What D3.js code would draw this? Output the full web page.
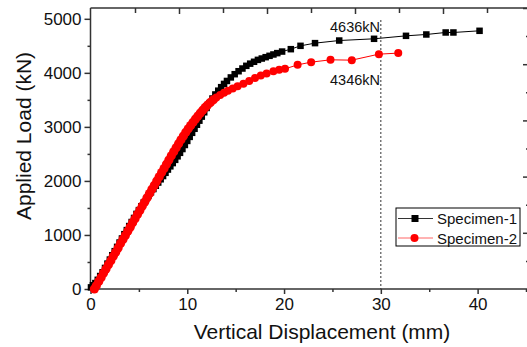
<!DOCTYPE html>
<html>
<head>
<meta charset="utf-8">
<script src="https://cdn.jsdelivr.net/npm/d3@7"></script>
<style>
body { margin:0; background:#fff; }
text { font-family: "Liberation Sans", Arial, sans-serif; fill:#111; }
.axis line, .axis path { stroke:#333; stroke-width:1.5px; }
.tick text { font-size:17px; }
</style>
</head>
<body>
<div id="chart"></div>
<script>
// Specimen-1 (black squares)
var s1x = [0.05,0.25,0.5,0.75,1.0,1.25,1.5,1.75,2.0,2.25,2.5,2.75,3.0,3.25,3.5,3.75,4.0,4.25,4.5,4.75,
  5.0,5.25,5.5,5.75,6.0,6.25,6.5,6.75,7.0,7.25,7.5,7.75,8.0,8.25,8.5,8.75,9.0,9.25,9.5,9.75,
  10.0,10.25,10.5,10.75,11.0,11.25,11.5,11.75,12.0,12.3,12.6,12.9,13.2,13.5,13.8,14.1,14.5,14.9,
  15.3,15.7,16.1,16.5,16.9,17.3,17.7,18.1,18.5,18.9,19.3,19.8,20.7,21.7,23.2,25.7,29.3,32.6,34.7,36.7,37.5,40.2];
var s1y = [30,70,110,170,240,310,390,470,545,625,700,780,860,935,1015,1090,1165,1240,1315,1390,
  1460,1530,1600,1665,1730,1790,1850,1910,1970,2030,2090,2150,2210,2270,2330,2390,2455,2520,2590,2665,
  2740,2815,2890,2965,3040,3115,3190,3270,3350,3440,3525,3600,3670,3735,3795,3850,3915,3975,
  4030,4080,4130,4170,4205,4240,4265,4290,4315,4340,4365,4394,4438,4500,4550,4598,4630,4685,4710,4747,4747,4778];

// Specimen-2 (red circles)
var s2x = [0.4,0.6,0.85,1.1,1.35,1.6,1.85,2.1,2.35,2.6,2.85,3.1,3.35,3.6,3.85,4.1,4.35,4.6,4.85,
  5.1,5.35,5.6,5.85,6.1,6.35,6.6,6.85,7.1,7.35,7.6,7.85,8.1,8.35,8.6,8.85,9.1,9.35,9.6,9.85,
  10.1,10.35,10.6,10.85,11.1,11.35,11.6,11.85,12.1,12.4,12.7,13.0,13.4,13.8,14.2,14.7,15.2,15.8,
  16.4,17.0,17.6,18.2,18.9,19.5,20.1,21.4,22.8,24.8,27.0,29.8,31.8];
var s2y = [0,60,140,215,295,370,450,525,605,680,760,840,915,990,1070,1145,1225,1300,1380,
  1455,1535,1610,1690,1765,1845,1920,2000,2075,2155,2230,2310,2385,2465,2540,2615,2690,2760,2830,2900,
  2965,3025,3085,3145,3200,3255,3310,3360,3405,3455,3500,3545,3590,3630,3670,3710,3750,3800,
  3850,3905,3950,3990,4030,4055,4074,4148,4198,4241,4235,4346,4365];

var xTicks = [0,10,20,30,40];
var yTicks = [0,1000,2000,3000,4000,5000];
var seriesNames = ["Specimen-1","Specimen-2"];
var peakLabels = ["4636kN","4346kN"];

var width = 527, height = 347;

var svg = d3.select("#chart").append("svg")
    .attr("width", width)
    .attr("height", height);

var x = d3.scaleLinear().domain([0,45]).range([90.5,526]);
var y = d3.scaleLinear().domain([0,5200]).range([289,8]);
// the mirrored axes of the original plot don't line up with the data axes
var xTop = d3.scaleLinear().domain([0,50]).range([91,531]);
var yRight = d3.scaleLinear().domain([0,5]).range([289,8]);

// dotted line at 30 mm
svg.append("line")
  .attr("x1", x(30)).attr("x2", x(30))
  .attr("y1", 20).attr("y2", y(0))
  .attr("stroke","#333").attr("stroke-width",1)
  .attr("stroke-dasharray","2,2");

// bottom axis, minor + major
svg.append("g").attr("class","axis")
  .attr("transform","translate(0,"+y(0)+")")
  .call(d3.axisBottom(x).tickValues([5,15,25,35,45]).tickSize(3).tickFormat(""))
  .call(function(g){ g.select(".domain").remove(); });
svg.append("g").attr("class","axis")
  .attr("transform","translate(0,"+y(0)+")")
  .call(d3.axisBottom(x).tickValues(xTicks).tickSize(5).tickSizeOuter(0).tickPadding(4).tickFormat(d3.format("d")))
  .call(function(g){ g.select(".domain").attr("d","M90.5,0H528"); });

// left axis
svg.append("g").attr("class","axis")
  .attr("transform","translate("+x(0)+",0)")
  .call(d3.axisLeft(y).tickValues([500,1500,2500,3500,4500]).tickSize(3).tickFormat(""))
  .call(function(g){ g.select(".domain").remove(); });
svg.append("g").attr("class","axis")
  .attr("transform","translate("+x(0)+",0)")
  .call(d3.axisLeft(y).tickValues(yTicks).tickSize(6).tickSizeOuter(0).tickPadding(3).tickFormat(d3.format("d")))
  .call(function(g){ g.select(".domain").attr("d","M0,289V8"); });

// top axis (ticks inward)
svg.append("g").attr("class","axis")
  .attr("transform","translate(0,8)")
  .call(d3.axisTop(xTop).tickValues(d3.range(5,50,10)).tickSize(-5).tickFormat(""))
  .call(function(g){ g.select(".domain").remove(); });
svg.append("g").attr("class","axis")
  .attr("transform","translate(0,8)")
  .call(d3.axisTop(xTop).tickValues(d3.range(10,51,10)).tickSize(-6).tickFormat(""))
  .call(function(g){ g.select(".domain").attr("d","M90.5,0H528"); });

// right axis (ticks inward)
svg.append("g").attr("class","axis")
  .attr("transform","translate(528,0)")
  .call(d3.axisRight(yRight).tickValues(d3.range(0.5,5,1)).tickSize(-2).tickFormat(""))
  .call(function(g){ g.select(".domain").remove(); g.selectAll("line").attr("stroke","#999"); });
svg.append("g").attr("class","axis")
  .attr("transform","translate(528,0)")
  .call(d3.axisRight(yRight).tickValues(d3.range(1,6,1)).tickSize(-5).tickFormat(""))
  .call(function(g){ g.select(".domain").remove(); });

// axis titles
svg.append("text")
  .attr("x",322).attr("y",339)
  .attr("text-anchor","middle")
  .style("font-size","21px")
  .text("Vertical Displacement (mm)");
svg.append("text")
  .attr("transform","translate(31,136) rotate(-90)")
  .attr("text-anchor","middle")
  .style("font-size","21px")
  .text("Applied Load (kN)");

var line = d3.line()
  .x(function(d){ return x(d[0]); })
  .y(function(d){ return y(d[1]); });

var d1 = s1x.map(function(v,i){ return [v, s1y[i]]; });
var d2 = s2x.map(function(v,i){ return [v, s2y[i]]; });

// specimen 1
svg.append("path").datum(d1)
  .attr("d", line).attr("fill","none")
  .attr("stroke","#000").attr("stroke-width",1);
svg.selectAll(".sq").data(d1).enter().append("rect")
  .attr("class","sq")
  .attr("x", function(d){ return x(d[0])-3.25; })
  .attr("y", function(d){ return y(d[1])-3.25; })
  .attr("width",6.5).attr("height",6.5)
  .attr("fill","#000");

// specimen 2
svg.append("path").datum(d2)
  .attr("d", line).attr("fill","none")
  .attr("stroke","#f00").attr("stroke-width",1);
svg.selectAll(".dot").data(d2).enter().append("circle")
  .attr("class","dot")
  .attr("cx", function(d){ return x(d[0]); })
  .attr("cy", function(d){ return y(d[1]); })
  .attr("r", function(d){ return d[0] < 13 ? 4.6 : 4; })
  .attr("fill","#f00");

// peak labels
svg.append("text").attr("x",380).attr("y",31.5)
  .attr("text-anchor","end").style("font-size","14.5px").text(peakLabels[0]);
svg.append("text").attr("x",380).attr("y",85)
  .attr("text-anchor","end").style("font-size","14.5px").text(peakLabels[1]);

// legend
var lg = svg.append("g").attr("transform","translate(396,208)");
lg.append("rect").attr("width",124).attr("height",38)
  .attr("fill","#fff").attr("stroke","#000").attr("stroke-width",1);
var lineCol = ["#333","#f66"];
seriesNames.forEach(function(name,i){
  var yy = 10.5 + i*19.5;
  lg.append("line").attr("x1",2).attr("x2",37).attr("y1",yy).attr("y2",yy)
    .attr("stroke",lineCol[i]).attr("stroke-width",1);
  if (i==0) {
    lg.append("rect").attr("x",15.5).attr("y",yy-3.5).attr("width",7).attr("height",7).attr("fill","#000");
  } else {
    lg.append("circle").attr("cx",18.5).attr("cy",yy).attr("r",4).attr("fill","#f00");
  }
  lg.append("text").attr("x",41).attr("y",yy+5.5)
    .style("font-size","15px").text(name);
});
</script>
</body>
</html>
